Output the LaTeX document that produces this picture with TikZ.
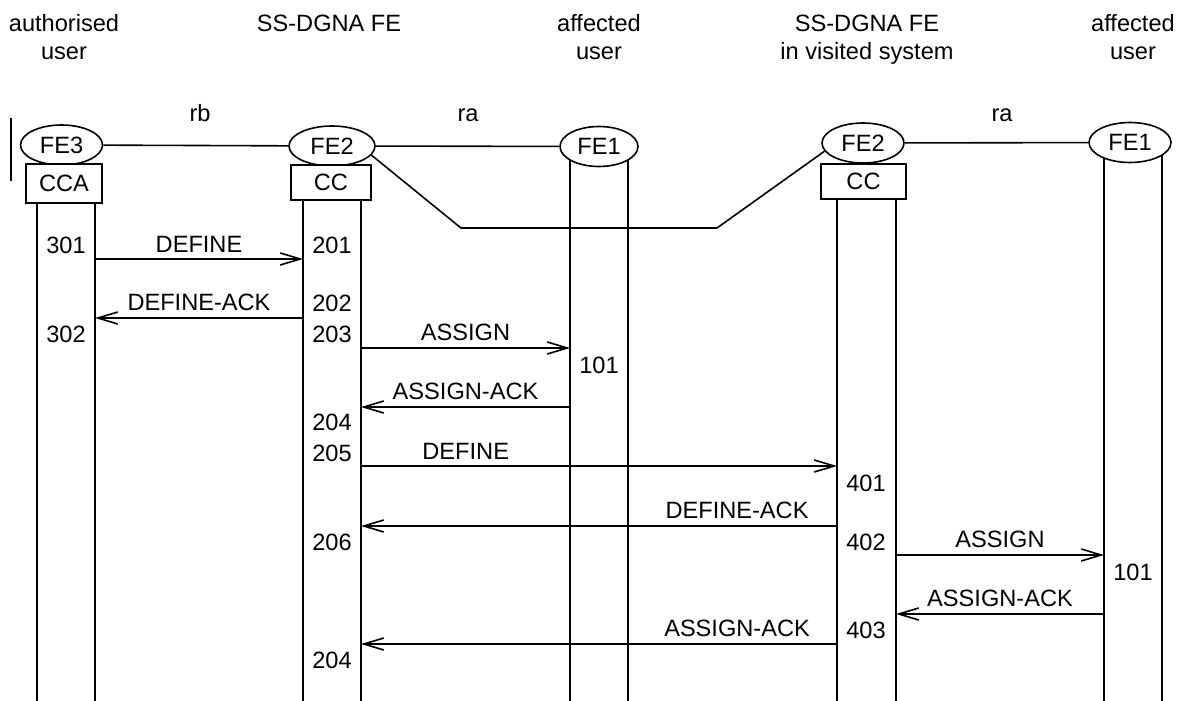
\documentclass[tikz,border=0pt]{standalone}
\usepackage{fontspec}
\setmainfont{Liberation Sans}
\usetikzlibrary{arrows.meta,shapes.geometric,positioning}
\tikzset{feoval/.style={draw,ellipse,fill=white,minimum width=41pt,minimum height=20pt,inner sep=0},
    ccbox/.style={draw,rectangle,fill=white,minimum width=40pt,minimum height=17.5pt,inner sep=0},
    msg/.style={-{Straight Barb[length=10pt,width=6pt]}},
    msglabel/.style={above,inner sep=3pt},
    headtext/.style={anchor=north,align=center,inner sep=0},
    reflabel/.style={anchor=base,inner sep=0}}

\begin{document}
\begin{tikzpicture}[x=0.5pt,y=-0.5pt,line width=0.8pt,font=\fontsize{11.8}{14}\selectfont]
\useasboundingbox (0,0) rectangle (1189,701);

% lifelines
\foreach \nm/\xx/\yy in {A1/37/185,A2/95/185,B1/303/185,B2/361/185,C1/570/146,C2/628/146,D1/837/185,D2/896/185,E1/1104/146,E2/1162/146}
  {\coordinate (\nm) at (\xx,701);
   \draw (\nm) -- (\xx,\yy);}

% headings
\node [headtext] at (64,14) {authorised\\user};
\node [headtext] at (329,14) {SS-DGNA FE};
\node [headtext] at (599,14) {affected\\user};
\node [headtext] at (867,14) {SS-DGNA FE\\in visited system};
\node [headtext] at (1133,14) {affected\\user};

\node [reflabel] at (200,122) {rb};
\node [reflabel] at (468,122) {ra};
\node [reflabel] at (1002,122) {ra};

\draw [line width=1.2pt] (11,118) -- (11,181);

% functional entities
\node (fe3) [feoval] at (61.5,145) {FE3};
\node (fe2b) [feoval,minimum width=43pt] at (332,146) {FE2};
\node (fe1c) [feoval,minimum width=39pt] at (599,146.5) {FE1};
\node (fe2d) [feoval] at (863,143) {FE2};
\node (fe1e) [feoval] at (1130,142.5) {FE1};

\node (cca) [ccbox,minimum width=38pt,minimum height=19.5pt] at (64,183.5) {CCA};
\node (ccb) [ccbox] at (331,182.5) {CC};
\node (ccd) [ccbox,minimum width=42.5pt] at (863.5,181.5) {CC};

\draw (fe3) -- (fe2b);
\draw (fe2b) -- (fe1c);
\draw (fe2d) -- (fe1e);
\coordinate (dipL) at (461,228);
\coordinate (dipR) at (717,228);
\draw (fe2b.-13) -- (dipL) -- (dipR) -- (fe2d.192);

% flows
\draw [msg] (A2 |- 0,259) -- node [msglabel] {DEFINE} (B1 |- 0,259);
\draw [msg] (B1 |- 0,318) -- node [msglabel] {DEFINE-ACK} (A2 |- 0,318);
\draw [msg] (B2 |- 0,348) -- node [msglabel] {ASSIGN} (C1 |- 0,348);
\draw [msg] (C1 |- 0,407) -- node [msglabel] {ASSIGN-ACK} (B2 |- 0,407);
\draw [msg] (B2 |- 0,466) -- node [msglabel,pos=0.22] {DEFINE} (D1 |- 0,466);
\draw [msg] (D1 |- 0,526) -- node [msglabel,pos=0.21] {DEFINE-ACK} (B2 |- 0,526);
\draw [msg] (D2 |- 0,555) -- node [msglabel] {ASSIGN} (E1 |- 0,555);
\draw [msg] (E1 |- 0,614) -- node [msglabel] {ASSIGN-ACK} (D2 |- 0,614);
\draw [msg] (D1 |- 0,644) -- node [msglabel,pos=0.21] {ASSIGN-ACK} (B2 |- 0,644);

% actions
\node (n301) at (66,245) {301};
\node (n302) at (66,334) {302};
\node (n201) at (332,245) {201};
\node (n202) at (332,303) {202};
\node (n203) at (332,334) {203};
\node (n204a) at (332,422) {204};
\node (n205) at (332,453) {205};
\node (n206) at (332,542) {206};
\node (n204b) at (332,660) {204};
\node (n101a) at (599,365) {101};
\node (n401) at (866,483) {401};
\node (n402) at (866,542) {402};
\node (n403) at (866,630) {403};
\node (n101b) at (1133,572) {101};

\end{tikzpicture}
\end{document}
